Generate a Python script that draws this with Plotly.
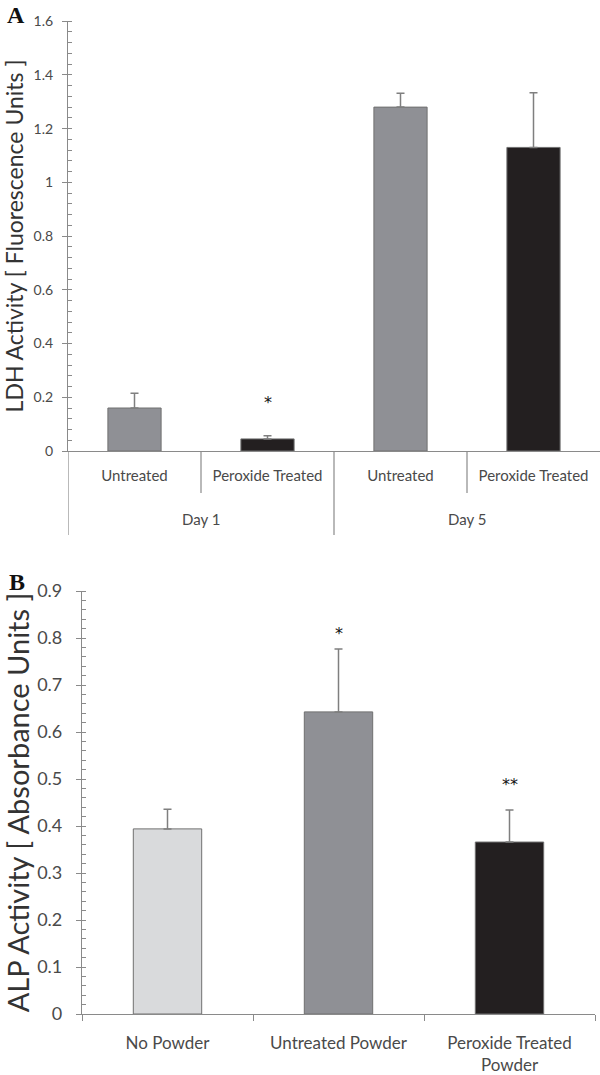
import plotly.graph_objects as go

# ---------------- Data ----------------
a_groups = ["Day 1", "Day 5"]
a_labels = ["Untreated", "Peroxide Treated", "Untreated", "Peroxide Treated"]
a_values = [0.16, 0.045, 1.28, 1.13]
a_errors = [0.055, 0.012, 0.052, 0.203]
a_stars = ["", "*", "", ""]
a_star_y = [None, 0.18, None, None]

b_labels = ["No Powder", "Untreated Powder", "Peroxide Treated<br>Powder"]
b_values = [0.394, 0.643, 0.366]
b_errors = [0.042, 0.134, 0.068]
b_stars = ["", "*", "**"]
b_star_y = [None, 0.81, 0.489]

a_yticks = [0, 0.2, 0.4, 0.6, 0.8, 1.0, 1.2, 1.4, 1.6]
b_yticks = [0, 0.1, 0.2, 0.3, 0.4, 0.5, 0.6, 0.7, 0.8, 0.9]

# ---------------- Style ----------------
W, H = 600, 1075
FONT = "Lato"
GRAY_BAR = "#8f9095"
BLACK_BAR = "#231f20"
LIGHT_BAR = "#d9dadc"
AXIS = "#8a8a8a"
TICKTXT = "#4a4a4a"
a_colors = [GRAY_BAR, BLACK_BAR, GRAY_BAR, BLACK_BAR]
b_colors = [LIGHT_BAR, GRAY_BAR, BLACK_BAR]


def py(pix):
    return 1 - pix / H


fig = go.Figure()

err_style = dict(type="data", symmetric=False, color="#7f7f7f", thickness=1.5, width=4)

fig.add_trace(go.Bar(
    x=list(range(len(a_labels))), y=a_values,
    error_y=dict(array=a_errors, arrayminus=[0] * len(a_values), **err_style),
    marker=dict(color=a_colors, line=dict(color="#707070", width=1)),
    xaxis="x", yaxis="y", showlegend=False, hoverinfo="skip",
))
fig.add_trace(go.Bar(
    x=list(range(len(b_labels))), y=b_values,
    error_y=dict(array=b_errors, arrayminus=[0] * len(b_values), **err_style),
    marker=dict(color=b_colors, line=dict(color="#707070", width=1)),
    xaxis="x2", yaxis="y2", showlegend=False, hoverinfo="skip",
))

annotations = []
shapes = []

# significance stars
for i, (s, yv) in enumerate(zip(a_stars, a_star_y)):
    if s:
        annotations.append(dict(x=i, y=yv, xref="x", yref="y", text=s, showarrow=False,
                                font=dict(family="DejaVu Sans", size=16, color="#111"),
                                yanchor="middle"))
for i, (s, yv) in enumerate(zip(b_stars, b_star_y)):
    if s:
        annotations.append(dict(x=i, y=yv, xref="x2", yref="y2", text=s, showarrow=False,
                                font=dict(family="DejaVu Sans", size=16, color="#111"),
                                yanchor="middle"))

# group labels and dividers for panel A
per_group = len(a_labels) // len(a_groups)
for g, name in enumerate(a_groups):
    start = g * per_group - 0.5
    annotations.append(dict(x=start + per_group / 2, y=py(519), xref="x", yref="paper",
                            text=name, showarrow=False, yanchor="middle", xanchor="center",
                            font=dict(family=FONT, size=15, color=TICKTXT)))
    shapes.append(dict(type="line", xref="x", yref="paper", x0=start, x1=start,
                       y0=py(451), y1=py(535), line=dict(color=AXIS, width=1.2)))
    for k in range(1, per_group):
        xb = start + k
        shapes.append(dict(type="line", xref="x", yref="paper", x0=xb, x1=xb,
                           y0=py(451), y1=py(493), line=dict(color=AXIS, width=1.2)))

# panel letters
annotations.append(dict(x=16 / W, y=py(15), xref="paper", yref="paper", text="<b>A</b>",
                        xanchor="center", yanchor="middle", showarrow=False,
                        font=dict(family="Liberation Serif", size=24, color="#111")))
annotations.append(dict(x=17 / W, y=py(582), xref="paper", yref="paper", text="<b>B</b>",
                        xanchor="center", yanchor="middle", showarrow=False,
                        font=dict(family="Liberation Serif", size=24, color="#111")))

common_y = dict(showline=True, linecolor=AXIS, linewidth=1.2, ticks="outside", ticklen=5,
                tickcolor=AXIS, showgrid=False, zeroline=False, tickmode="array")
common_x = dict(showline=True, linecolor=AXIS, linewidth=1.2, ticks="", showgrid=False,
                zeroline=False, tickmode="array")

fig.update_layout(
    width=W, height=H,
    margin=dict(l=0, r=0, t=0, b=0, autoexpand=False),
    paper_bgcolor="white", plot_bgcolor="white",
    bargap=0.6,
    font=dict(family=FONT),
    xaxis=dict(domain=[68 / W, 1.0], range=[-0.5, len(a_labels) - 0.5], anchor="y",
               tickvals=list(range(len(a_labels))), ticktext=a_labels,
               tickfont=dict(family=FONT, size=15, color=TICKTXT), ticklabelstandoff=11,
               **common_x),
    yaxis=dict(domain=[py(451), py(21)], range=[0, 1.6005], anchor="x",
               tickvals=a_yticks, ticktext=[f"{v:g}" for v in a_yticks],
               tickfont=dict(family=FONT, size=14, color=TICKTXT), ticklabelstandoff=6,
               minor=dict(dtick=0.04, tick0=0, ticks="inside", ticklen=4, tickcolor=AXIS),
               title=dict(text="LDH Activity [ Fluorescence Units ]", standoff=3,
                          font=dict(family=FONT, size=23, color="#333")),
               **common_y),
    xaxis2=dict(domain=[82 / W, 595 / W], range=[-0.5, len(b_labels) - 0.5], anchor="y2",
                tickvals=list(range(len(b_labels))), ticktext=b_labels,
                tickfont=dict(family=FONT, size=17, color=TICKTXT), ticklabelstandoff=13,
                minor=dict(tick0=0.5, dtick=1, ticks="outside", ticklen=6, tickcolor=AXIS),
                **common_x),
    yaxis2=dict(domain=[py(1014), py(591)], range=[0, 0.9003], anchor="x2",
                tickvals=b_yticks, ticktext=[f"{v:g}" for v in b_yticks],
                tickfont=dict(family=FONT, size=18, color=TICKTXT), ticklabelstandoff=10,
                minor=dict(dtick=0.02, tick0=0, ticks="inside", ticklen=4, tickcolor=AXIS),
                title=dict(text="ALP Activity [ Absorbance Units ]", standoff=0,
                           font=dict(family=FONT, size=29, color="#333")),
                **common_y),
    annotations=annotations,
    shapes=shapes,
)

fig.write_html("out.html",
               config={"displayModeBar": False},
               post_script="document.body.style.margin='0';document.body.style.padding='0';"
                           "document.documentElement.style.overflow='hidden';")
